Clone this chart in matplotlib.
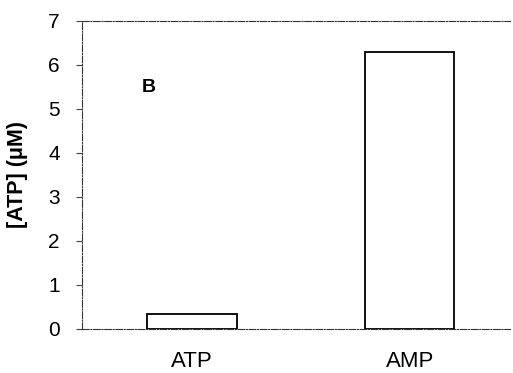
import matplotlib
matplotlib.use("Agg")
import matplotlib.pyplot as plt

categories = ["ATP", "AMP"]
values = [0.34, 6.3]
yticks = [0, 1, 2, 3, 4, 5, 6, 7]

plt.rcParams['font.family'] = ['Liberation Sans', 'DejaVu Sans']
fig = plt.figure(figsize=(5.13, 3.73), dpi=100)
ax = fig.add_axes([82/513, 1-329/373, 428/513, (329-21)/373])

x = list(range(len(categories)))
ax.bar(x, values, width=0.41, color='white', edgecolor='black', linewidth=1.3)
ax.set_xlim(-0.505, 1.46)
ax.set_ylim(0, 7)
ax.set_xticks(x)
ax.set_xticklabels(categories, fontsize=16)
ax.set_yticks(yticks)
ax.set_yticklabels([str(t) for t in yticks], fontsize=15)
ax.tick_params(axis='x', length=0, pad=16)
ax.tick_params(axis='y', direction='out', length=4, width=0.8, color='#444444', pad=12)
for s in ['left', 'top', 'bottom']:
    ax.spines[s].set_linestyle((0, (6, 1.5, 1, 1.5)))
    ax.spines[s].set_linewidth(0.8)
    ax.spines[s].set_color('#333333')
ax.spines['right'].set_visible(False)
ax.set_ylabel('[ATP] (μM)', fontsize=15.5, fontweight='bold')
ax.yaxis.set_label_coords(-0.125, 0.5)
ax.text(-0.2, 5.48, 'B', fontsize=14, fontweight='bold', ha='center', va='center')
fig.savefig('out.png', dpi=100)
